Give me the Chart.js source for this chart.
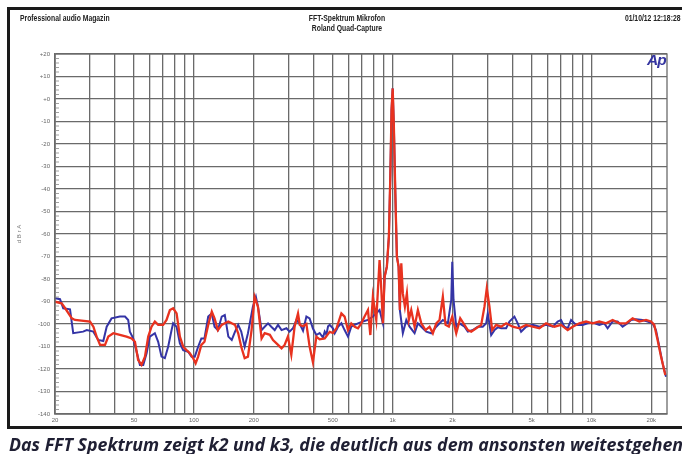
<!DOCTYPE html>
<html><head><meta charset="utf-8">
<script src="https://cdn.jsdelivr.net/npm/chart.js@4"></script>
<style>
html,body{margin:0;padding:0;background:#fff;width:682px;height:454px;overflow:hidden;position:relative;}
#frame{position:absolute;left:7px;top:7px;width:700px;height:422px;border:3px solid #1a1a1a;box-sizing:border-box;}
#c{position:absolute;left:0;top:0;}
.hdr{position:absolute;font-family:"Liberation Sans",Arial,sans-serif;font-weight:bold;font-size:8.5px;color:#222;white-space:nowrap;line-height:10px;}
#caption{position:absolute;left:9px;top:436px;font-family:"Open Sans",sans-serif;font-style:italic;font-weight:700;font-size:17.8px;line-height:17.5px;color:#1f1f33;white-space:nowrap;}
#ap{position:absolute;left:647px;top:51px;font-family:"Liberation Sans",Arial,sans-serif;font-style:italic;font-weight:bold;font-size:15.5px;color:#3535a0;letter-spacing:-1px;}
</style></head>
<body>
<div id="frame"></div>
<canvas id="c" width="682" height="454"></canvas>
<div class="hdr" style="left:20px;top:13px;transform:scaleX(0.8);transform-origin:left center;">Professional audio Magazin</div>
<div class="hdr" style="left:347px;top:13px;transform:translateX(-50%) scaleX(0.8);transform-origin:center center;text-align:center;">FFT-Spektrum Mikrofon<br>Roland Quad-Capture</div>
<div class="hdr" style="right:2px;top:13px;transform:scaleX(0.8);transform-origin:right center;">01/10/12 12:18:28</div>
<div id="ap">Ap</div>
<div id="caption">Das FFT Spektrum zeigt k2 und k3, die deutlich aus dem ansonsten weitestgehend</div>
<script>
// ---- data ----
const blueFreq = [20,21.2,22.0,23.8,24.7,27.7,28.9,31.2,33.0,35.0,36.4,38.5,42.4,45.0,46.7,47.6,49.5,51.5,53.5,55.6,57.8,60.0,63.6,66.1,68.7,71.4,74.2,77.2,78.6,81.8,85.0,88.3,93.5,97.3,101,105,109,113,118,123,127,132,138,143,149,155,161,167,173,180,187,191,198,205,210,219,227,236,245,255,265,276,292,303,315,328,341,354,368,382,397,413,429,446,455,464,473,482,492,501,511,521,531,552,573,596,619,644,669,708,751,795,859,893,911,935,957,973,987,1000,1014,1031,1050,1071,1087,1125,1171,1216,1289,1339,1393,1475,1563,1657,1721,1788,1895,1971,1994,2024,2088,2169,2299,2388,2530,2681,2840,2954,3009,3130,3252,3378,3514,3723,3868,4098,4258,4428,4692,5064,5472,5913,6382,6763,7034,7308,7593,7898,8368,9033,9570,10140,10957,11610,12063,12782,13544,14350,15206,15816,16758,18088,19166,20307,21124,21958,22812,23730];
const blueDb = [-88.6,-89.0,-93.0,-93.5,-104.1,-103.4,-102.7,-103.4,-107.1,-107.6,-101.2,-97.5,-96.7,-96.7,-98.2,-103.4,-106.4,-112.3,-118.2,-118.2,-113.0,-105.6,-104.1,-107.9,-114.5,-115.2,-110.1,-102.7,-99.7,-101.2,-108.6,-111.6,-112.3,-114.5,-114.5,-110.1,-106.4,-106.4,-96.7,-95.3,-101.2,-102.7,-96.7,-96.0,-105.6,-107.1,-103.4,-100.4,-103.4,-110.1,-104.1,-99.7,-92.3,-87.9,-92.3,-102.7,-101.2,-99.7,-101.2,-102.7,-100.4,-102.7,-101.9,-103.4,-101.9,-98.2,-100.0,-103.0,-96.7,-97.5,-102.0,-104.9,-104.0,-106.0,-103.4,-104.8,-101.0,-100.4,-101.2,-102.0,-104.1,-102.7,-101.2,-99.7,-102.7,-105.6,-101.2,-100.4,-99.7,-98.9,-98.2,-96.7,-93.8,-99.7,-79.0,-74.5,-61.2,-34.5,-4.9,4.7,-12.3,-41.9,-70.1,-74.5,-93.8,-104.1,-98.2,-101.2,-104.1,-99.7,-101.2,-103.4,-104.1,-101.2,-99.7,-98.2,-99.7,-89.3,-72.3,-89.3,-101.2,-99.7,-101.2,-103.4,-102.7,-101.2,-101.2,-99.7,-95.3,-104.9,-102.7,-101.5,-101.9,-101.9,-98.9,-96.7,-99.7,-103.4,-101.2,-100.4,-101.2,-100.4,-101.2,-98.9,-98.2,-101.2,-101.9,-98.2,-100.4,-100.4,-99.7,-99.4,-100.4,-99.7,-101.9,-98.9,-98.9,-101.2,-99.7,-98.2,-97.9,-98.2,-98.9,-99.7,-102.7,-110.1,-117.5,-123.4];
const redFreq = [20,21.6,22.5,24.3,25.2,30.0,31.2,32.4,33.7,35.7,37.1,39.3,42.4,45.8,48.6,50.5,52.4,54.5,56.7,58.9,61.2,63.6,66.1,70.0,72.8,75.7,78.6,81.8,85.0,88.3,91.8,95.4,99.1,102,105,109,113,118,123,127,132,138,143,149,155,161,167,173,180,187,195,202,210,219,227,241,250,265,276,286,297,309,321,334,341,354,368,382,397,413,429,455,482,501,521,552,573,596,619,644,669,695,722,751,772,795,827,859,877,893,911,935,957,973,987,1000,1014,1031,1050,1071,1087,1105,1125,1152,1179,1206,1240,1289,1339,1393,1464,1533,1593,1657,1721,1788,1845,1917,1994,2088,2187,2272,2388,2484,2632,2788,2896,2975,3068,3167,3316,3514,3723,4019,4342,4692,5064,5472,5913,6508,7034,7593,8046,8694,9395,10140,10957,11842,12782,13812,14926,16112,17410,18814,19934,20712,21519,22392,23537];
const redDb = [-90.1,-90.8,-93.0,-97.5,-98.2,-98.9,-101.2,-105.6,-109.3,-109.3,-105.6,-104.1,-104.8,-105.6,-106.4,-107.9,-116.0,-118.2,-114.5,-105.6,-101.2,-98.9,-100.4,-100.4,-98.2,-93.8,-93.0,-95.3,-105.6,-110.1,-111.6,-113.0,-115.2,-117.5,-114.5,-109.3,-107.9,-100.4,-94.5,-97.5,-102.7,-100.4,-99.7,-98.9,-99.7,-100.4,-104.1,-110.1,-115.2,-114.5,-102.7,-87.9,-92.3,-106.4,-104.1,-104.8,-107.1,-109.3,-110.8,-109.3,-105.6,-113.7,-101.2,-95.3,-100.4,-101.0,-100.0,-110.0,-117.0,-105.6,-106.8,-106.4,-103.5,-104.0,-102.0,-95.3,-96.7,-102.7,-99.7,-101.2,-101.9,-99.7,-96.7,-93.8,-104.9,-87.9,-98.2,-71.6,-84.9,-99.7,-79.0,-74.5,-61.2,-34.5,-4.9,4.7,-12.3,-41.9,-70.1,-74.5,-93.8,-73.0,-86.4,-92.3,-86.4,-98.2,-93.8,-101.2,-93.8,-99.7,-102.7,-101.2,-104.1,-99.7,-98.2,-87.9,-100.4,-101.2,-96.7,-104.1,-97.5,-99.7,-102.7,-103.4,-101.9,-100.4,-92.3,-84.1,-92.3,-102.7,-100.4,-101.2,-99.7,-101.2,-101.9,-100.4,-101.2,-101.9,-99.7,-101.2,-100.4,-102.7,-101.2,-99.7,-98.9,-99.7,-98.9,-99.7,-98.2,-99.7,-99.7,-97.5,-98.9,-98.2,-98.9,-100.4,-107.1,-114.5,-122.7];
const xGridValues = [20,30,40,50,60,70,80,90,100,200,300,400,500,600,700,800,900,1000,2000,3000,4000,5000,6000,7000,8000,9000,10000,20000];
const xLabelValues = [20,50,100,200,500,1000,2000,5000,10000,20000];
const xLabelTexts = ['20','50','100','200','500','1k','2k','5k','10k','20k'];
const yMin = -140, yMax = 20, yStep = 10, yMinorStep = 2;

const gridColor = '#6a6a6a';
const framePlugin = {
  id: 'frameMinor',
  afterDraw(chart) {
    const {ctx, chartArea: a, scales} = chart;
    ctx.save();
    ctx.strokeStyle = gridColor;
    ctx.lineWidth = 1.3;
    ctx.strokeRect(a.left, a.top, a.right - a.left, a.bottom - a.top);
    ctx.lineWidth = 0.8;
    ctx.strokeStyle = '#888';
    for (let v = yMin; v <= yMax; v += yMinorStep) {
      if (v % yStep === 0) continue;
      const y = scales.y.getPixelForValue(v);
      ctx.beginPath(); ctx.moveTo(a.left, y); ctx.lineTo(a.left + 4, y); ctx.stroke();
    }
    ctx.restore();
  }
};

new Chart(document.getElementById('c'), {
  type: 'line',
  data: {
    datasets: [
      {label: 'red', data: redFreq.map((f, i) => ({x: f, y: redDb[i]})), borderColor: '#e8321f', borderWidth: 2.3, pointRadius: 0, tension: 0},
      {label: 'blue', data: blueFreq.map((f, i) => ({x: f, y: blueDb[i]})), borderColor: '#3434a6', borderWidth: 2, pointRadius: 0, tension: 0}
    ]
  },
  options: {
    responsive: false, animation: false, events: [],
    layout: {padding: {left: 0, top: 54, right: 15, bottom: 24}},
    plugins: {legend: {display: false}, tooltip: {enabled: false}},
    scales: {
      x: {
        type: 'logarithmic', min: 20, max: 24000,
        afterBuildTicks(s) { s.ticks = xGridValues.map(v => ({value: v})); },
        afterFit(s) { s.height = 16; },
        ticks: {autoSkip: false, maxRotation: 0, minRotation: 0, padding: 3, color: '#666',
          font: {size: 6, family: 'Liberation Sans'},
          callback(v) { const i = xLabelValues.indexOf(v); return i >= 0 ? xLabelTexts[i] : ''; }},
        grid: {color: gridColor, lineWidth: 1.3, drawTicks: false},
        border: {color: gridColor, width: 1.3}
      },
      y: {
        type: 'linear', min: yMin, max: yMax,
        afterFit(s) { s.width = 55; },
        ticks: {stepSize: yStep, padding: 5, color: '#666', font: {size: 6, family: 'Liberation Sans'},
          callback(v) { return (v >= 0 ? '+' : '') + v; }},
        grid: {color: gridColor, lineWidth: 1.3, drawTicks: false},
        border: {color: gridColor, width: 1.3},
        title: {display: true, text: 'd B r A', color: '#777', font: {size: 6, family: 'Liberation Sans'}, padding: {top: 16, bottom: 0}}
      }
    }
  },
  plugins: [framePlugin]
});
</script>
</body></html>
